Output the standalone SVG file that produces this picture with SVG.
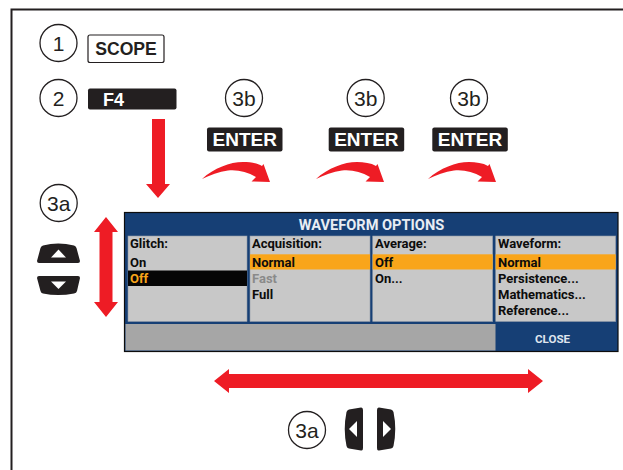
<svg xmlns="http://www.w3.org/2000/svg" width="623" height="470" viewBox="0 0 623 470">
<style>
.c{fill:#fff;stroke:#231f20;stroke-width:1.3}
.n{font-family:"Liberation Sans",Arial,sans-serif;font-size:21px;fill:#231f20;text-anchor:middle}
.k{font-family:"Liberation Sans",Arial,sans-serif;font-weight:700;text-anchor:middle}
.e{fill:#231f20}
.w{fill:#fff}
.r{fill:#ee1c25}
.p{fill:#c8c8c8;stroke:#8f9aa8;stroke-width:.6}
.t{font-family:Roboto,"Liberation Sans",sans-serif;font-weight:700;font-size:13px;fill:#0c0c0c}
.o{fill:#f9a51a}
</style>
<defs>
<path id="curve" d="M202 179C214 168 230 162 243 162C250 162 257 163 262 166L263.500 164L270 182L251.500 181.500L256 177C247 172 238 169.500 228 170.500C219 171.500 210 175 202 179Z"/>
</defs>
<path d="M623 9.500H11.500V470" fill="none" stroke="#231f20" stroke-width="2"/>
<g id="connectors">
<path class="r" d="M152 119H165V184H170L158 198L146 184H152Z"/>
<use href="#curve" class="r"/>
<use href="#curve" class="r" x="114"/>
<use href="#curve" class="r" x="226"/>
<path class="r" d="M106 217L118 232H112.500V302H118L106 317L94 302H99.500V232H94Z"/>
<path class="r" d="M214 381L229 369V374H528V369L543 381L528 393V388H229V393Z"/>
</g>
<g id="step1">
<circle class="c" cx="58.500" cy="43" r="18.500"/>
<text class="n" x="58.500" y="50.500">1</text>
</g>
<g id="scope-key">
<rect x="88" y="35" width="76" height="27.500" rx="2" fill="#fff" stroke="#231f20" stroke-width="1.200"/>
<text class="k" x="126" y="54.500" font-size="17.600" fill="#231f20">SCOPE</text>
</g>
<g id="step2">
<circle class="c" cx="58.500" cy="98" r="18.500"/>
<text class="n" x="58.500" y="105.500">2</text>
</g>
<g id="f4-key">
<rect class="e" x="88" y="88.500" width="88.500" height="21" rx="2"/>
<text class="k" x="113.500" y="106" font-size="18" fill="#fff">F4</text>
</g>
<g id="step3b-1">
<circle class="c" cx="244" cy="98" r="18.500"/>
<text class="n" x="244" y="105.500">3b</text>
</g>
<g id="enter-1">
<rect class="e" x="207" y="127.500" width="75.500" height="24" rx="2"/>
<text class="k" x="244.700" y="146" font-size="19" fill="#fff">ENTER</text>
</g>
<g id="step3b-2">
<circle class="c" cx="365.700" cy="98" r="18.500"/>
<text class="n" x="365.700" y="105.500">3b</text>
</g>
<g id="enter-2">
<rect class="e" x="328.700" y="127.500" width="75.500" height="24" rx="2"/>
<text class="k" x="366.400" y="146" font-size="19" fill="#fff">ENTER</text>
</g>
<g id="step3b-3">
<circle class="c" cx="469" cy="98" r="18.500"/>
<text class="n" x="469" y="105.500">3b</text>
</g>
<g id="enter-3">
<rect class="e" x="432.300" y="127.500" width="75.500" height="24" rx="2"/>
<text class="k" x="470" y="146" font-size="19" fill="#fff">ENTER</text>
</g>
<g id="step3a-left">
<circle class="c" cx="58.700" cy="203" r="18.500"/>
<text class="n" x="58.700" y="210.500">3a</text>
</g>
<g id="up-key">
<path class="e" d="M43 245.500Q58 241.500 74 245.500Q76 246 76.500 248L80 261Q80 263 78 263H39Q37 263 37 261L40.500 248Q41 246 43 245.500Z"/>
<path class="w" d="M58.500 249.500L66 257.500H51Z"/>
</g>
<g id="down-key">
<path class="e" d="M39 276H78Q80 276 80 278L77 291Q76.500 293 74 293.500Q58 296.500 43 293.500Q41 293 40.500 291L37 278Q37 276 39 276Z"/>
<path class="w" d="M51 281.500H66L58.500 289Z"/>
</g>
<g id="waveform-dialog">
<rect x="124.500" y="212.500" width="493.500" height="139" fill="#163f75" stroke="#0d0d0d" stroke-width="1.200"/>
<text x="371.500" y="230" font-family="Roboto,'Liberation Sans',sans-serif" font-weight="700" font-size="14.600" fill="#e8edf3" text-anchor="middle">WAVEFORM OPTIONS</text>
<rect class="p" x="128" y="236" width="119" height="85.500"/>
<rect class="p" x="250" y="236" width="120" height="85.500"/>
<rect class="p" x="372.700" y="236" width="120" height="85.500"/>
<rect class="p" x="495.700" y="236" width="120" height="85.500"/>
<rect x="128" y="270.500" width="119" height="15.500" fill="#060606"/>
<rect class="o" x="250" y="254.300" width="120" height="15.200"/>
<rect class="o" x="372.700" y="254.300" width="120" height="15.200"/>
<rect class="o" x="495.700" y="254.300" width="120" height="15.200"/>
<rect x="125.500" y="324" width="370" height="26.500" fill="#a6a6a6"/>
<text class="t" x="130" y="248">Glitch:</text>
<text class="t" x="130" y="267">On</text>
<text class="t" x="130" y="283" style="fill:#f9a51a">Off</text>
<text class="t" x="252" y="248">Acquisition:</text>
<text class="t" x="252" y="267">Normal</text>
<text class="t" x="252" y="283" style="fill:#8a8a8a">Fast</text>
<text class="t" x="252" y="299">Full</text>
<text class="t" x="375" y="248">Average:</text>
<text class="t" x="375" y="267">Off</text>
<text class="t" x="375" y="283">On...</text>
<text class="t" x="498" y="248">Waveform:</text>
<text class="t" x="498" y="267">Normal</text>
<text class="t" x="498" y="283">Persistence...</text>
<text class="t" x="498" y="299">Mathematics...</text>
<text class="t" x="498" y="315">Reference...</text>
<text x="552.500" y="342.500" font-family="Roboto,'Liberation Sans',sans-serif" font-weight="700" font-size="11.600" fill="#dfe5ee" text-anchor="middle">CLOSE</text>
</g>
<g id="step3a-bottom">
<circle class="c" cx="307" cy="430" r="18.500"/>
<text class="n" x="307" y="437.500">3a</text>
</g>
<g id="left-key">
<path class="e" d="M361 407.500Q363 407.300 363 410V448Q363 451 361 450.500L349 448.500Q347 448 346.500 446Q343 429 346.500 412Q347 410 349 409.500Z"/>
<path class="w" d="M349 429L357 421V437Z"/>
</g>
<g id="right-key">
<path class="e" d="M379 407.500Q377 407.300 377 410V448Q377 451 379 450.500L391 448.500Q393 448 393.500 446Q397 429 393.500 412Q393 410 391 409.500Z"/>
<path class="w" d="M391 429L383 421V437Z"/>
</g>
</svg>
